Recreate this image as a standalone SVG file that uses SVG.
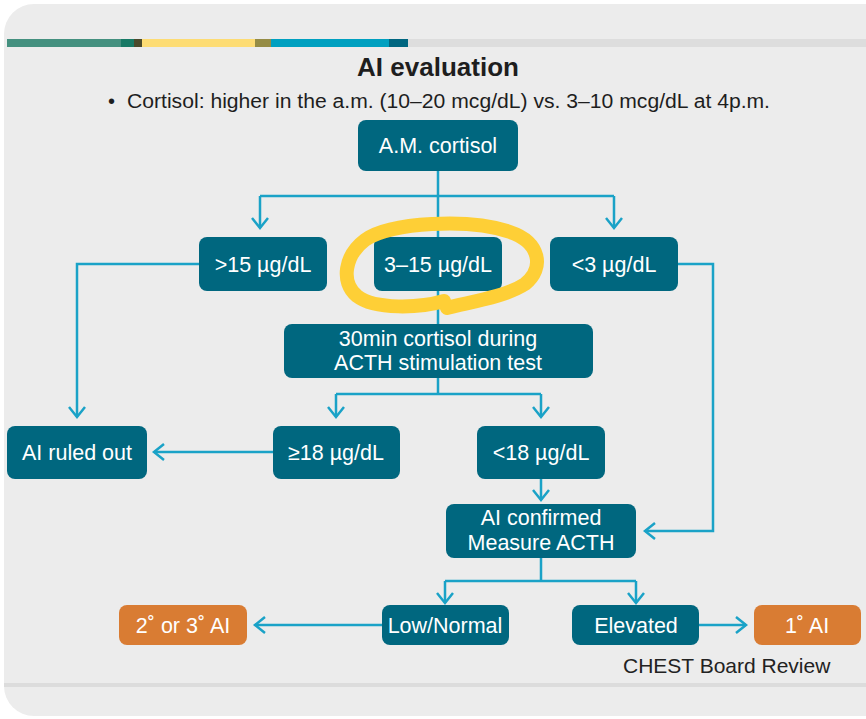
<svg xmlns="http://www.w3.org/2000/svg" width="866" height="719" viewBox="0 0 866 719">
  <style>
    .node { fill: #00677f; }
    .alt { fill: #d97c33; }
    .lbl { font-family: "Liberation Sans", Arial, sans-serif; font-size: 21.5px; fill: #ffffff; text-anchor: middle; }
    .wire { fill: none; stroke: #1aa2c7; stroke-width: 2.5; }
    .head { fill: none; stroke: #1aa2c7; stroke-width: 2.5; }
  </style>
  <defs>
    <marker id="arrow" markerUnits="userSpaceOnUse" markerWidth="24" markerHeight="24" refX="12" refY="12" orient="auto" viewBox="0 0 24 24">
      <path class="head" d="M 2 4 L 12 12 L 2 20"/>
    </marker>
  </defs>

  <!-- backdrop panel -->
  <rect x="0" y="0" width="866" height="719" fill="#ffffff"/>
  <rect x="4" y="4" width="900" height="712" rx="30" ry="30" fill="#ececec"/>

  <!-- colour strip along the top -->
  <g id="strip">
    <rect x="7" y="39" width="114" height="8" fill="#44907f"/>
    <rect x="121" y="39" width="13" height="8" fill="#187a66"/>
    <rect x="134" y="39" width="8" height="8" fill="#4b4a2c"/>
    <rect x="142" y="39" width="113" height="8" fill="#fddc74"/>
    <rect x="255" y="39" width="16" height="8" fill="#958c45"/>
    <rect x="271" y="39" width="118" height="8" fill="#00a0c0"/>
    <rect x="389" y="39" width="19" height="8" fill="#006680"/>
    <rect x="408" y="39" width="458" height="8" fill="#dddddd"/>
  </g>
  <rect x="4" y="683" width="862" height="4" fill="#dcdcdc"/>

  <!-- heading -->
  <text x="438" y="76" font-family="'Liberation Sans', Arial, sans-serif" font-size="26" font-weight="bold" fill="#1e1e1e" text-anchor="middle">AI evaluation</text>
  <text x="108" y="108" font-family="'Liberation Sans', Arial, sans-serif" font-size="20" fill="#1e1e1e">•</text>
  <text x="127" y="108" font-family="'Liberation Sans', Arial, sans-serif" font-size="20" fill="#1e1e1e" textLength="643" lengthAdjust="spacingAndGlyphs">Cortisol: higher in the a.m. (10–20 mcg/dL) vs. 3–10 mcg/dL at 4p.m.</text>

  <!-- connectors -->
  <g id="connectors">
    <path class="wire" d="M 438 171 V 238"/>
    <path class="wire" d="M 260 196 H 614"/>
    <path class="wire" d="M 260 196 V 228" marker-end="url(#arrow)"/>
    <path class="wire" d="M 614 196 V 228" marker-end="url(#arrow)"/>
    <path class="wire" d="M 199 264 H 77 V 417" marker-end="url(#arrow)"/>
    <path class="wire" d="M 678 264 H 713 V 531 H 645" marker-end="url(#arrow)"/>
    <path class="wire" d="M 438 291 V 324"/>
    <path class="wire" d="M 438 378 V 394"/>
    <path class="wire" d="M 336 394 H 541"/>
    <path class="wire" d="M 336 394 V 417" marker-end="url(#arrow)"/>
    <path class="wire" d="M 541 394 V 417" marker-end="url(#arrow)"/>
    <path class="wire" d="M 273 452 H 154" marker-end="url(#arrow)"/>
    <path class="wire" d="M 541 479 V 500" marker-end="url(#arrow)"/>
    <path class="wire" d="M 541 558 V 581"/>
    <path class="wire" d="M 445 581 H 636"/>
    <path class="wire" d="M 445 581 V 603" marker-end="url(#arrow)"/>
    <path class="wire" d="M 636 581 V 603" marker-end="url(#arrow)"/>
    <path class="wire" d="M 382 625 H 255" marker-end="url(#arrow)"/>
    <path class="wire" d="M 699 625 H 746" marker-end="url(#arrow)"/>
  </g>

  <!-- nodes -->
  <g id="am-cortisol">
    <rect class="node" x="358" y="120" width="160" height="51" rx="8"/>
    <text class="lbl" x="438" y="153">A.M. cortisol</text>
  </g>
  <g id="above-15">
    <rect class="node" x="199" y="237" width="128" height="54" rx="8"/>
    <text class="lbl" x="263" y="272">&gt;15 µg/dL</text>
  </g>
  <g id="range-3-15">
    <rect class="node" x="374" y="237" width="128" height="54" rx="8"/>
    <text class="lbl" x="438" y="272">3–15 µg/dL</text>
  </g>
  <g id="below-3">
    <rect class="node" x="550" y="237" width="128" height="54" rx="8"/>
    <text class="lbl" x="614" y="272">&lt;3 µg/dL</text>
  </g>
  <g id="acth-test">
    <rect class="node" x="284" y="324" width="309" height="54" rx="8"/>
    <text class="lbl" x="438" y="346">30min cortisol during</text>
    <text class="lbl" x="438" y="370">ACTH stimulation test</text>
  </g>
  <g id="ruled-out">
    <rect class="node" x="7" y="426" width="140" height="53" rx="8"/>
    <text class="lbl" x="77" y="460">AI ruled out</text>
  </g>
  <g id="at-least-18">
    <rect class="node" x="273" y="426" width="127" height="53" rx="8"/>
    <text class="lbl" x="336" y="460">≥18 µg/dL</text>
  </g>
  <g id="below-18">
    <rect class="node" x="477" y="426" width="128" height="53" rx="8"/>
    <text class="lbl" x="541" y="460">&lt;18 µg/dL</text>
  </g>
  <g id="confirmed">
    <rect class="node" x="446" y="504" width="190" height="54" rx="8"/>
    <text class="lbl" x="541" y="525">AI confirmed</text>
    <text class="lbl" x="541" y="550">Measure ACTH</text>
  </g>
  <g id="secondary">
    <rect class="alt" x="119" y="605" width="128" height="40" rx="8"/>
    <text class="lbl" x="183" y="633">2˚ or 3˚ AI</text>
  </g>
  <g id="low-normal">
    <rect class="node" x="382" y="605" width="127" height="40" rx="8"/>
    <text class="lbl" x="445" y="633">Low/Normal</text>
  </g>
  <g id="elevated">
    <rect class="node" x="572" y="605" width="127" height="40" rx="8"/>
    <text class="lbl" x="636" y="633">Elevated</text>
  </g>
  <g id="primary">
    <rect class="alt" x="754" y="605" width="107" height="40" rx="8"/>
    <text class="lbl" x="807" y="633">1˚ AI</text>
  </g>

  <!-- hand-drawn highlight loop -->
  <path d="M 444 301 C 420 308, 375 310, 357 296 C 340 282, 345 255, 365 240 C 390 222, 470 218, 510 232 C 540 242, 545 268, 525 284 C 505 297, 470 302, 447 308" fill="none" stroke="#fecf36" stroke-width="14" stroke-linecap="round" stroke-linejoin="round"/>

  <text x="623" y="673" font-family="'Liberation Sans', Arial, sans-serif" font-size="21" fill="#222222">CHEST Board Review</text>
</svg>
